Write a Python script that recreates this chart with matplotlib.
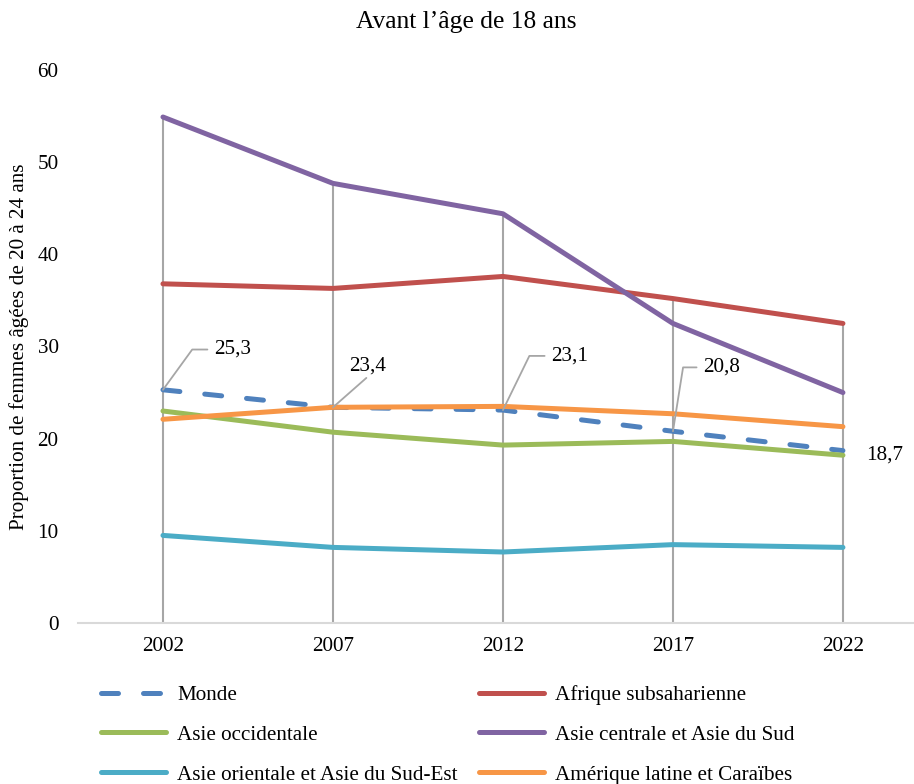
import numpy as np
import matplotlib.pyplot as plt

plt.rcParams['font.family'] = ['Liberation Serif', 'DejaVu Serif']

# --- data ---
years = ['2002', '2007', '2012', '2017', '2022']
monde = [25.3, 23.4, 23.1, 20.8, 18.7]
afrique_subsah = [36.8, 36.3, 37.6, 35.2, 32.5]
asie_occ = [23.0, 20.7, 19.3, 19.7, 18.2]
asie_centrale_sud = [54.9, 47.7, 44.4, 32.5, 25.0]
asie_orient_se = [9.5, 8.2, 7.7, 8.5, 8.2]
amerique_latine = [22.1, 23.4, 23.5, 22.7, 21.3]
monde_labels = ['25,3', '23,4', '23,1', '20,8', '18,7']

# label offsets (points) and leader angles for the Monde data labels
label_offsets = [(37, 29), (25, 30), (35, 39), (22, 46), (17, -3)]
leader_angles = [54, None, 64, 81, None]

FS = 15.2

series = [
    ('Monde', monde, '#4F81BD', True),
    ('Afrique subsaharienne', afrique_subsah, '#C0504D', False),
    ('Asie occidentale', asie_occ, '#9BBB59', False),
    ('Asie centrale et Asie du Sud', asie_centrale_sud, '#8064A2', False),
    ('Asie orientale et Asie du Sud-Est', asie_orient_se, '#4BACC6', False),
    ('Amérique latine et Caraïbes', amerique_latine, '#F79646', False),
]

fig = plt.figure(figsize=(9.14, 7.84), dpi=100)
ax = fig.add_axes([0.0853, 0.2054, 0.9147, 0.7053])

x = np.arange(len(years))

# drop lines from the highest value down to zero
tops = np.max([s[1] for s in series], axis=0)
ax.vlines(x, 0, tops, color='#A6A6A6', lw=1.5, zorder=1)

handles = {}
for name, vals, col, dashed in series:
    if dashed:
        ln, = ax.plot(x, vals, color=col, lw=3.6, dashes=(3.4, 5.0),
                      dash_capstyle='round', solid_capstyle='round', zorder=3)
    else:
        ln, = ax.plot(x, vals, color=col, lw=3.6, solid_capstyle='round',
                      solid_joinstyle='round', zorder=3)
    handles[name] = ln

# data labels for Monde
for i, (lab, off, ang) in enumerate(zip(monde_labels, label_offsets, leader_angles)):
    if ang is not None:
        ax.annotate(lab, xy=(i, monde[i]), xytext=off, textcoords='offset points',
                    ha='left', va='center', fontsize=FS,
                    arrowprops=dict(arrowstyle='-', color='#A6A6A6', lw=1.3,
                                    shrinkA=3, shrinkB=0, relpos=(0, 0.5),
                                    connectionstyle=f'angle,angleA=0,angleB={ang},rad=0'),
                    zorder=4)
    elif i == 1:
        ax.annotate(lab, xy=(i, monde[i]), xytext=off, textcoords='offset points',
                    ha='center', va='center', fontsize=FS,
                    arrowprops=dict(arrowstyle='-', color='#A6A6A6', lw=1.3,
                                    shrinkA=0, shrinkB=0, relpos=(0.55, 0)),
                    zorder=4)
    else:
        ax.annotate(lab, xy=(i, monde[i]), xytext=off, textcoords='offset points',
                    ha='left', va='center', fontsize=FS, zorder=4)

ax.set_xlim(-0.5, 4.418)
ax.set_ylim(0, 60)
ax.set_xticks(x)
ax.set_xticklabels(years)
ax.set_yticks(range(0, 61, 10))
ax.tick_params(axis='both', length=0, labelsize=FS)
ax.tick_params(axis='y', pad=14)
ax.tick_params(axis='x', pad=10)
for s in ['left', 'right', 'top']:
    ax.spines[s].set_visible(False)
ax.spines['bottom'].set_color('#D9D9D9')
ax.spines['bottom'].set_linewidth(1.5)

ax.set_ylabel('Proportion de femmes âgées de 20 à 24 ans', fontsize=FS, labelpad=6)
fig.text(466 / 914, 1 - 22 / 784, 'Avant l\u2019âge de 18 ans', ha='center', va='center',
         fontsize=18.4)

# legend: reorder so the column-major layout reads row by row like the original
order = ['Monde', 'Asie occidentale', 'Asie orientale et Asie du Sud-Est',
         'Afrique subsaharienne', 'Asie centrale et Asie du Sud', 'Amérique latine et Caraïbes']
fig.legend([handles[n] for n in order], order, ncol=2, loc='upper left',
           bbox_to_anchor=(101 / 914, 1 - 685 / 784), frameon=False,
           fontsize=FS, handlelength=3.1, handletextpad=0.5,
           columnspacing=1.0, labelspacing=0.95, borderpad=0, borderaxespad=0)

fig.savefig('out.png', dpi=100)
